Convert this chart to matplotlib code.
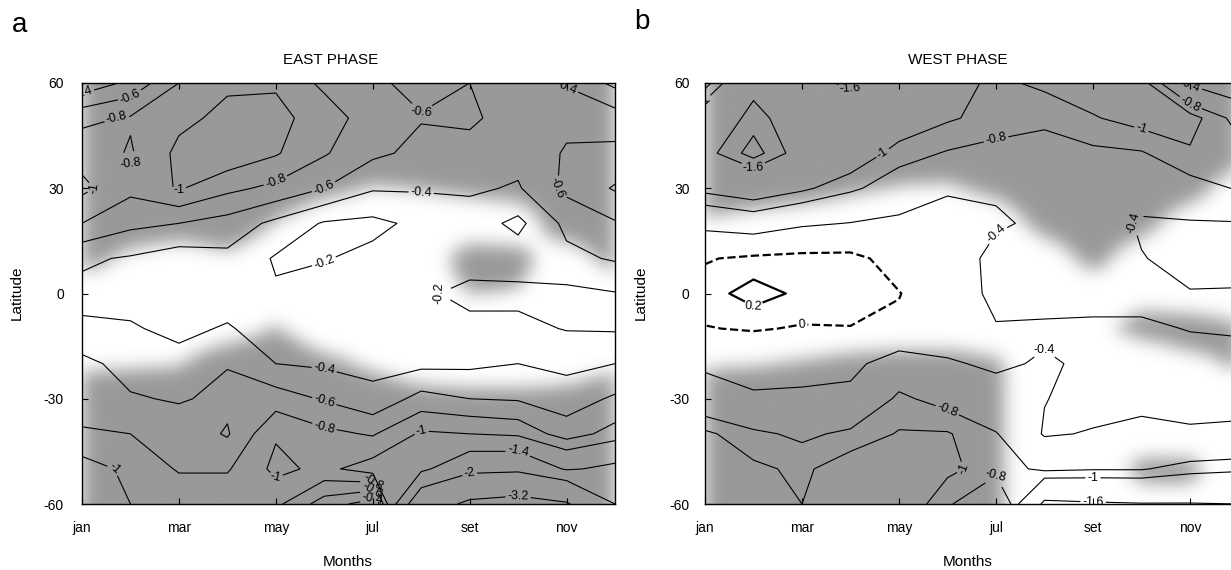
import numpy as np
import matplotlib
matplotlib.use('Agg')
import matplotlib.pyplot as plt

plt.rcParams['font.family'] = ['Liberation Sans', 'DejaVu Sans']
plt.rcParams['contour.negative_linestyle'] = 'solid'
plt.rcParams['axes.unicode_minus'] = False

# grid: months jan..dec, latitude 60 .. -60 every 10 deg
months = np.arange(1, 13)
lats = np.arange(60, -61, -10)
month_ticks = [1, 3, 5, 7, 9, 11]
month_labels = ['jan', 'mar', 'may', 'jul', 'set', 'nov']
lat_ticks = [-60, -30, 0, 30, 60]

# EAST PHASE field (rows: lat 60 -> -60, cols: jan -> dec)
east = [
    [-0.25, -0.45, -0.80, -0.97, -0.98, -0.75, -0.63, -0.55, -0.60, -0.48, -0.38, -0.15],
    [-0.75, -0.82, -0.95, -1.05, -1.05, -0.92, -0.68, -0.61, -0.63, -0.52, -0.55, -0.50],
    [-0.92, -0.78, -1.05, -1.15, -1.02, -0.82, -0.64, -0.55, -0.54, -0.47, -0.62, -0.65],
    [-1.05, -0.85, -1.02, -0.85, -0.75, -0.60, -0.42, -0.42, -0.43, -0.38, -0.65, -0.82],
    [-0.80, -0.65, -0.60, -0.52, -0.35, -0.18, -0.15, -0.25, -0.30, -0.15, -0.45, -0.58],
    [-0.43, -0.38, -0.30, -0.35, -0.18, -0.19, -0.25, -0.27, -0.28, -0.30, -0.35, -0.42],
    [-0.35, -0.33, -0.30, -0.30, -0.22, -0.28, -0.30, -0.23, -0.15, -0.15, -0.15, -0.19],
    [-0.43, -0.42, -0.35, -0.42, -0.30, -0.30, -0.32, -0.30, -0.25, -0.25, -0.19, -0.18],
    [-0.66, -0.52, -0.47, -0.59, -0.40, -0.37, -0.35, -0.35, -0.36, -0.40, -0.35, -0.40],
    [-0.72, -0.62, -0.58, -0.65, -0.70, -0.58, -0.45, -0.67, -0.60, -0.58, -0.50, -0.63],
    [-0.82, -0.80, -0.72, -0.58, -0.98, -0.85, -0.78, -1.03, -1.00, -0.95, -0.70, -0.88],
    [-1.10, -0.95, -0.78, -0.78, -1.05, -0.95, -1.10, -1.30, -1.80, -1.85, -1.35, -1.50],
    [-1.30, -1.00, -0.95, -0.95, -0.85, -0.50, -0.30, -2.60, -3.40, -3.60, -3.30, -2.00],
]
east_levels = [-3.2, -2, -1.4, -1, -0.8, -0.6, -0.4, -0.2]

# significance (shaded) for EAST PHASE
east_sig = [
    [1, 1, 1, 1, 1, 1, 1, 1, 1, 1, 1, 1],
    [1, 1, 1, 1, 1, 1, 1, 1, 1, 1, 1, 1],
    [1, 1, 1, 1, 1, 1, 1, 1, 1, 1, 1, 1],
    [1, 1, 1, 1, 1, 0.7, 0.45, 0.52, 0.65, 0.8, 1, 1],
    [1, 1, 1, 1, 0.45, 0, 0, 0, 0, 0, 1, 1],
    [0.8, 0.3, 0, 0.35, 0, 0, 0, 0, 0.85, 0.75, 0, 0.8],
    [0, 0, 0, 0, 0, 0, 0, 0, 0.5, 0.45, 0, 0],
    [0, 0, 0, 0.1, 0.55, 0, 0, 0, 0, 0, 0, 0],
    [0.35, 0.4, 0.45, 1, 1, 0.7, 0.35, 0, 0, 0, 0, 0.35],
    [1, 1, 1, 1, 1, 1, 1, 0.8, 0.7, 0.7, 0.8, 1],
    [1, 1, 1, 1, 1, 1, 1, 1, 1, 1, 1, 1],
    [1, 1, 1, 1, 1, 1, 1, 1, 1, 1, 1, 1],
    [1, 1, 1, 1, 1, 1, 1, 1, 1, 1, 1, 1],
]

# WEST PHASE field
west = [
    [-0.70, -1.50, -1.50, -1.65, -1.45, -1.10, -0.95, -1.05, -1.15, -1.10, -0.35, -0.10],
    [-1.30, -1.70, -1.40, -1.35, -1.20, -1.03, -0.92, -0.85, -0.98, -1.10, -1.10, -0.70],
    [-1.50, -1.90, -1.45, -1.20, -0.90, -0.78, -0.72, -0.70, -0.75, -0.78, -0.97, -0.90],
    [-1.08, -1.20, -1.05, -0.85, -0.65, -0.42, -0.42, -0.55, -0.60, -0.52, -0.70, -0.82],
    [-0.50, -0.60, -0.45, -0.39, -0.32, -0.33, -0.38, -0.43, -0.55, -0.37, -0.37, -0.38],
    [-0.02, 0.05, 0.08, 0.08, -0.12, -0.30, -0.45, -0.45, -0.50, -0.41, -0.33, -0.30],
    [0.10, 0.30, 0.15, 0.12, 0.01, -0.20, -0.48, -0.48, -0.48, -0.48, -0.41, -0.42],
    [-0.01, 0.02, -0.02, -0.01, -0.05, -0.30, -0.38, -0.37, -0.36, -0.36, -0.41, -0.43],
    [-0.35, -0.25, -0.30, -0.30, -0.60, -0.42, -0.37, -0.42, -0.37, -0.30, -0.30, -0.30],
    [-0.55, -0.45, -0.45, -0.50, -0.85, -0.70, -0.48, -0.41, -0.30, -0.38, -0.32, -0.35],
    [-1.05, -0.85, -0.75, -0.85, -1.02, -1.02, -0.82, -0.37, -0.42, -0.42, -0.43, -0.43],
    [-1.30, -1.05, -0.95, -1.15, -1.20, -1.05, -0.90, -0.75, -0.78, -0.78, -0.90, -0.95],
    [-1.40, -1.15, -1.00, -1.20, -1.20, -0.85, -0.40, -1.70, -1.65, -1.62, -1.62, -1.60],
]
west_levels = [-1.8, -1.6, -1, -0.8, -0.4]

west_sig = [
    [1, 1, 1, 1, 1, 1, 1, 1, 1, 1, 1, 1],
    [1, 1, 1, 1, 1, 1, 1, 1, 1, 1, 1, 1],
    [1, 1, 1, 1, 1, 1, 1, 1, 1, 1, 1, 0.85],
    [1, 1, 0.85, 0.6, 0.45, 0.4, 0.7, 1, 1, 1, 0.85, 0],
    [0.4, 0.15, 0, 0, 0, 0, 0, 0.8, 1, 0.8, 0, 0],
    [0, 0, 0, 0, 0, 0, 0, 0, 0.77, 0, 0, 0],
    [0, 0, 0, 0, 0, 0, 0, 0, 0, 0.3, 0, 0],
    [0, 0, 0, 0, 0, 0, 0, 0, 0.35, 0.7, 0.85, 0.6],
    [0.4, 0.45, 0.55, 0.7, 0.8, 0.8, 0.6, 0, 0, 0, 0.3, 0.6],
    [1, 1, 1, 1, 1, 1, 0.6, 0, 0, 0, 0, 0],
    [1, 1, 1, 1, 1, 1, 0.6, 0, 0, 0, 0, 0],
    [1, 1, 1, 1, 1, 1, 0.6, 0, 0, 0.7, 0.7, 0],
    [1, 1, 1, 1, 1, 1, 0.6, 0, 0, 0.2, 0.2, 0],
]


def shading(sig, nx=600, ny=480, sigma_px=9.0):
    m = np.array(sig, dtype=float)[::-1]
    lat_up = lats[::-1]
    xf = np.linspace(1, 12, nx)
    yf = np.linspace(-60, 60, ny)
    rows = np.array([np.interp(xf, months, r) for r in m])
    fine = np.array([np.interp(yf, lat_up, rows[:, j]) for j in range(nx)]).T
    b = (fine > 0.5).astype(float)
    sx = sigma_px * nx / 533.0
    sy = sigma_px * ny / 421.0
    px, py = int(3 * sx) + 1, int(3 * sy) + 1
    b = np.pad(b, ((0, 0), (px, px)), mode='constant')
    b = np.pad(b, ((py, py), (0, 0)), mode='edge')
    kx = np.exp(-0.5 * (np.arange(-px, px + 1) / sx) ** 2)
    ky = np.exp(-0.5 * (np.arange(-py, py + 1) / sy) ** 2)
    kx /= kx.sum()
    ky /= ky.sum()
    b = np.apply_along_axis(lambda r: np.convolve(r, kx, mode='same'), 1, b)
    b = np.apply_along_axis(lambda c: np.convolve(c, ky, mode='same'), 0, b)
    return b[py:-py, px:-px]


def panel(ax, field, sig, levels):
    s = shading(sig)
    img = 1 - s * (1 - 0.60)
    ax.imshow(img, cmap='gray', vmin=0, vmax=1, origin='lower',
              extent=[1, 12, -60, 60], aspect='auto', interpolation='bilinear', zorder=0)
    z = np.array(field)
    cs = ax.contour(months, lats, z, levels=levels, colors='k', linewidths=0.8, zorder=2)
    ax.clabel(cs, fmt='%g', fontsize=9, inline=True, inline_spacing=2)
    ax.set_xlim(1, 12)
    ax.set_ylim(-60, 60)
    ax.set_xticks(month_ticks)
    ax.set_xticklabels(month_labels)
    ax.set_yticks(lat_ticks)
    ax.tick_params(direction='in', length=4, width=0.8, top=True, labelsize=10)
    for sp in ax.spines.values():
        sp.set_linewidth(1.0)
    return z


fig = plt.figure(figsize=(12.31, 5.70), dpi=100)
W, H = 1231.0, 570.0
axa = fig.add_axes([82 / W, 1 - 504 / H, 533 / W, 421 / H])
axb = fig.add_axes([705 / W, 1 - 504 / H, 533.5 / W, 421 / H])

panel(axa, east, east_sig, east_levels)
zb = panel(axb, west, west_sig, west_levels)
# zero line (dashed, bold) and positive 0.2 (bold)
c0 = axb.contour(months, lats, zb, levels=[0], colors='k', linewidths=1.6,
                 linestyles='dashed', zorder=2)
axb.clabel(c0, fmt='%g', fontsize=9, inline=True, inline_spacing=2)
c2 = axb.contour(months, lats, zb, levels=[0.2], colors='k', linewidths=1.6,
                 linestyles='solid', zorder=2)
axb.clabel(c2, fmt='%g', fontsize=9, inline=True, inline_spacing=1)

axa.tick_params(axis='y', pad=13)
axa.tick_params(axis='x', pad=12)
axb.tick_params(axis='y', pad=11)
axb.tick_params(axis='x', pad=12)

fig.text(331 / W, 1 - 60 / H, 'EAST PHASE', ha='center', va='center', fontsize=11)
fig.text(958 / W, 1 - 60 / H, 'WEST PHASE', ha='center', va='center', fontsize=11)
fig.text(20 / W, 1 - 25 / H, 'a', ha='center', va='center', fontsize=20)
fig.text(642 / W, 1 - 22 / H, 'b', ha='center', va='center', fontsize=20)
fig.text(348 / W, 1 - 562 / H, 'Months', ha='center', va='center', fontsize=11)
fig.text(968 / W, 1 - 562 / H, 'Months', ha='center', va='center', fontsize=11)
fig.text(17 / W, 1 - 293 / H, 'Latitude', ha='center', va='center', rotation=90, fontsize=11)
fig.text(641 / W, 1 - 293 / H, 'Latitude', ha='center', va='center', rotation=90, fontsize=11)

fig.savefig('out.png', dpi=100)
